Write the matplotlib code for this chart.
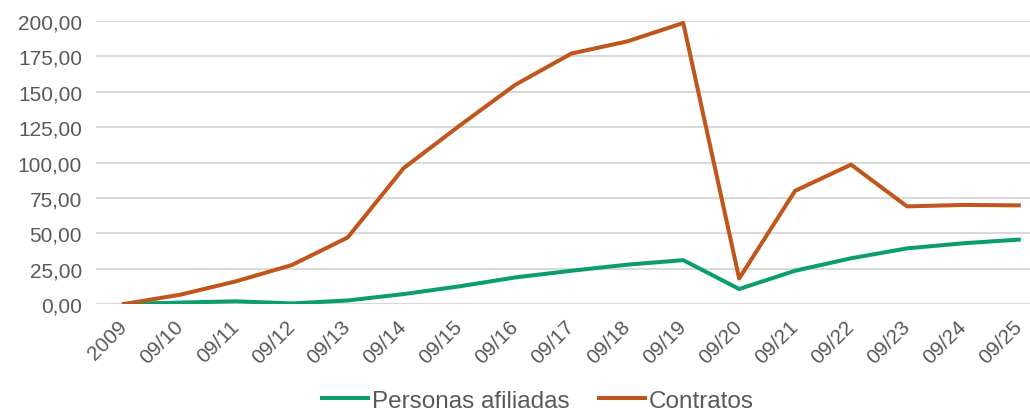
import numpy as np
import matplotlib.pyplot as plt
from matplotlib.ticker import FuncFormatter

plt.rcParams['font.family'] = ['Liberation Sans', 'DejaVu Sans']

periods = ["2009", "09/10", "09/11", "09/12", "09/13", "09/14", "09/15", "09/16", "09/17",
           "09/18", "09/19", "09/20", "09/21", "09/22", "09/23", "09/24", "09/25"]
personas = [0, 1, 1.9, 0.4, 2.5, 7, 12.5, 18.8, 23.5, 27.8, 31, 10.6, 23.5, 32.3, 39.3, 42.9, 45.5]
contratos = [0, 6.5, 16, 27.5, 47, 96, 126, 155, 177, 185.6, 198.6, 18, 80, 98.5, 69, 70, 69.7]

green = "#0a9e6e"
orange = "#c0561b"
grey = "#595959"

fig = plt.figure(figsize=(10.30, 4.14), dpi=100)
ax = fig.add_axes([96/1030, 1 - 305/414, 1 - 96/1030, (305 - 22)/414])

x = np.arange(len(periods))
ax.plot(x, personas, color=green, lw=2.9, label="Personas afiliadas", solid_joinstyle='round', zorder=3)
ax.plot(x, contratos, color=orange, lw=2.9, label="Contratos", solid_joinstyle='round', zorder=3)

ax.set_ylim(0, 200)
ax.set_yticks(np.arange(0, 201, 25))
ax.yaxis.set_major_formatter(FuncFormatter(lambda v, p: f"{v:.2f}".replace(".", ",")))
ax.set_xlim(-0.5, 16.2)
ax.set_xticks(x)
ax.set_xticklabels(periods, rotation=45, ha='right', va='center', rotation_mode='anchor')

ax.grid(axis='y', color="#d9d9d9", lw=1.5)
ax.set_axisbelow(True)
for s in ax.spines.values():
    s.set_visible(False)
ax.tick_params(axis='both', length=0, labelsize=15, colors=grey)
ax.tick_params(axis='y', pad=10)
ax.tick_params(axis='x', pad=14)

fig.legend(loc='lower center', bbox_to_anchor=(0.522, -0.05), ncol=2, frameon=False,
           fontsize=17.5, labelcolor=grey, handlelength=1.9, handletextpad=0.15, columnspacing=1.2)

fig.savefig("out.png", dpi=100)
